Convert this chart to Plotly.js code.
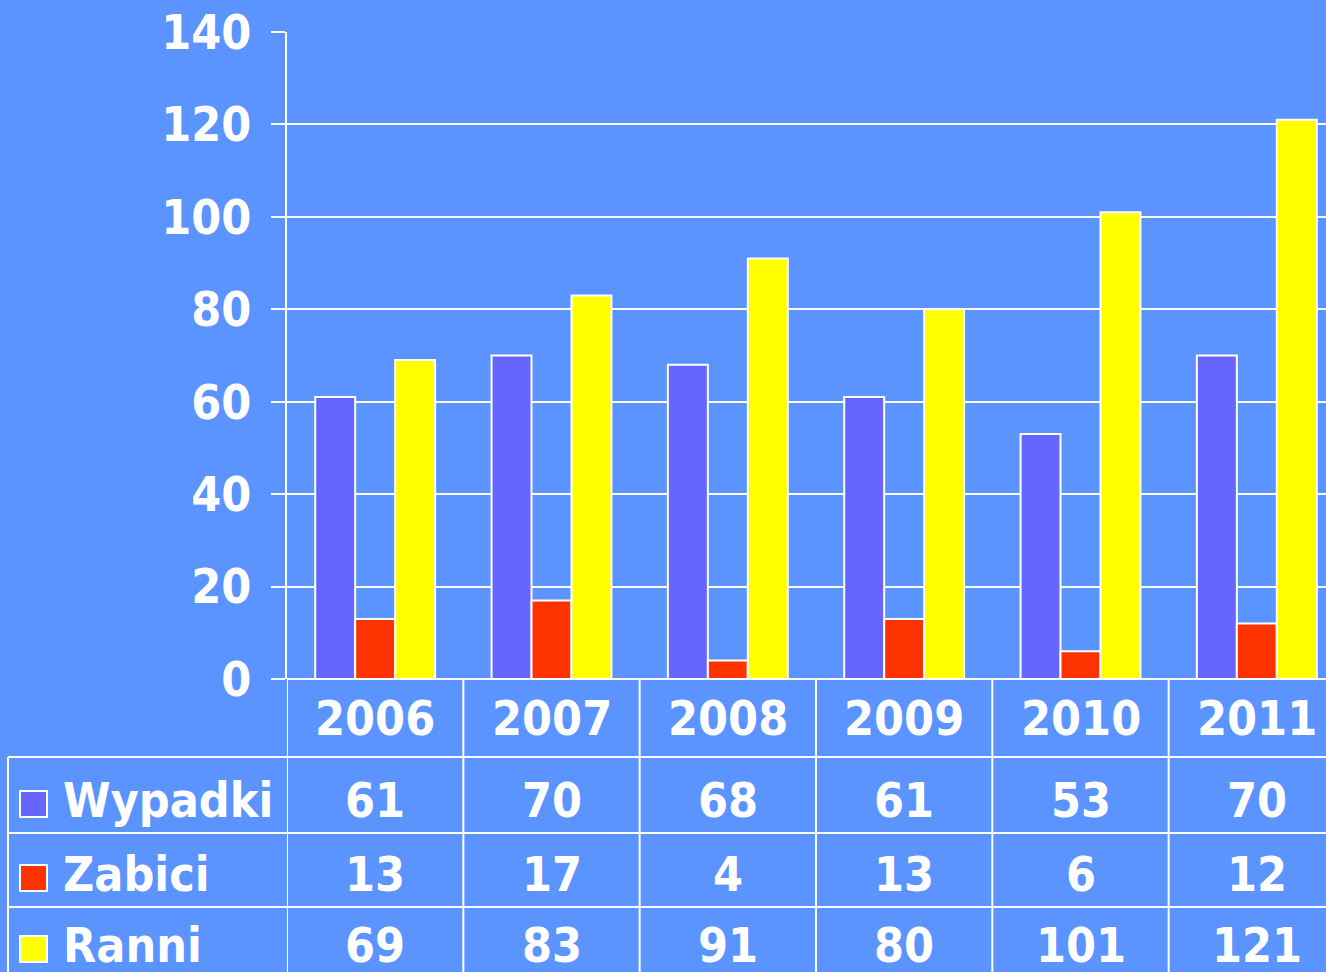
<!DOCTYPE html>
<html>
<head>
<meta charset="utf-8">
<script src="https://cdn.plot.ly/plotly-3.0.1.min.js"></script>
<style>
html,body{margin:0;padding:0;overflow:hidden;background:#5B93FF;}
#chart{width:1345px;height:972px;}
</style>
</head>
<body>
<div id="chart"></div>
<script>
const years = ['2006','2007','2008','2009','2010','2011'];
const seriesNames = ['Wypadki','Zabici','Ranni'];
const wypadki = [61,70,68,61,53,70];
const zabici = [13,17,4,13,6,12];
const ranni = [69,83,91,80,101,121];
const colors = ['#6666FF','#FF3300','#FFFF00'];
const yTicks = [0,20,40,60,80,100,120,140];

const seriesValues = [wypadki, zabici, ranni];
const BG = '#5B93FF';
const FONT = 'DejaVu Sans Condensed, DejaVu Sans, sans-serif';
const FS = 48;

// pixel geometry of the plot area
const L = 287, W = 1058, T = 32, B = 679, H = B - T;
const X = px => (px - L) / W;
const Y = py => (B - py) / H;

const traces = seriesNames.map((n, i) => ({
  type: 'bar', name: n, x: years.map((_, k) => k), y: seriesValues[i],
  marker: {color: colors[i], line: {color: '#FFFFFF', width: 2}},
  hoverinfo: 'skip'
}));

const shapes = [];
const annotations = [];
const lineStyle = {color: '#FFFFFF', width: 2};

// table row boundaries (px)
const rowLines = [757, 833, 907];
rowLines.forEach(py => shapes.push({type: 'line', xref: 'paper', yref: 'paper', x0: X(8), x1: X(1360), y0: Y(py), y1: Y(py), line: lineStyle}));
// left border of legend column
shapes.push({type: 'line', xref: 'paper', yref: 'paper', x0: X(8), x1: X(8), y0: Y(757), y1: Y(1000), line: lineStyle});
// column boundaries
for (let k = 0; k <= years.length; k++) {
  shapes.push({type: 'line', xref: 'x', yref: 'paper', x0: k - 0.5, x1: k - 0.5, y0: Y(679), y1: Y(1000), line: lineStyle});
}

// header years
years.forEach((yr, k) => annotations.push({
  xref: 'x', yref: 'paper', x: k, y: Y(718), text: yr, showarrow: false,
  xanchor: 'center', yanchor: 'middle',
  font: {family: FONT, size: FS, color: '#FFFFFF', weight: 'bold'}
}));

const rowCenters = [800, 874, 945];
seriesNames.forEach((n, i) => {
  const cy = rowCenters[i];
  // legend key square
  shapes.push({type: 'rect', xref: 'paper', yref: 'paper', x0: X(20), x1: X(47), y0: Y(cy + 4 - 13), y1: Y(cy + 4 + 13),
    fillcolor: colors[i], line: {color: '#FFFFFF', width: 2}});
  annotations.push({xref: 'paper', yref: 'paper', x: X(61), y: Y(cy), text: n, showarrow: false,
    xanchor: 'left', yanchor: 'middle', font: {family: FONT, size: FS, color: '#FFFFFF', weight: 'bold'}});
  seriesValues[i].forEach((v, k) => annotations.push({
    xref: 'x', yref: 'paper', x: k, y: Y(cy), text: String(v), showarrow: false,
    xanchor: 'center', yanchor: 'middle',
    font: {family: FONT, size: FS, color: '#FFFFFF', weight: 'bold'}
  }));
});

const layout = {
  width: 1345, height: 972,
  margin: {l: L, r: 0, t: T, b: 972 - B, pad: 0},
  paper_bgcolor: BG, plot_bgcolor: BG,
  barmode: 'group', bargap: 0.32, bargroupgap: 0,
  showlegend: false,
  xaxis: {range: [-0.5, 5.5], showticklabels: false, showgrid: false, zeroline: false, showline: false, ticks: '', fixedrange: true},
  yaxis: {range: [0, 140], tickvals: yTicks, ticktext: yTicks.map(String),
    showgrid: true, gridcolor: '#FFFFFF', gridwidth: 2,
    zeroline: true, zerolinecolor: '#FFFFFF', zerolinewidth: 2,
    showline: true, linecolor: '#FFFFFF', linewidth: 2,
    ticks: 'outside', ticklen: 14, tickcolor: '#FFFFFF', tickwidth: 2,
    ticklabelstandoff: 10,
    tickfont: {family: FONT, size: FS, color: '#FFFFFF', weight: 'bold'}, fixedrange: true},
  shapes: shapes, annotations: annotations
};

Plotly.newPlot('chart', traces, layout, {displayModeBar: false, staticPlot: true});
</script>
</body>
</html>
